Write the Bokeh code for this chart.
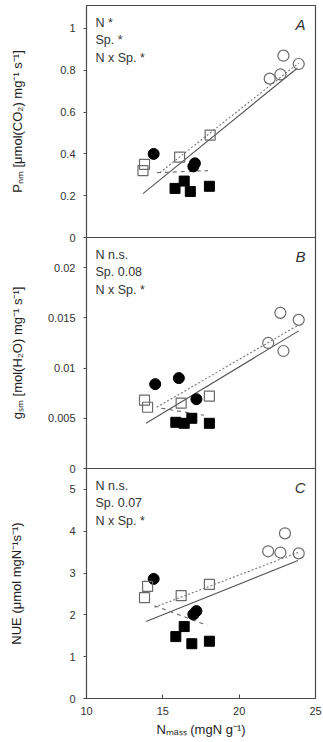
from bokeh.plotting import figure
from bokeh.layouts import column
from bokeh.models import Range1d, FixedTicker, Label
from bokeh.embed import file_html
from bokeh.resources import INLINE

# ---------------- data ----------------
x_ticks = [10, 15, 20, 25]

# Panel A : P_nm
a_ticks = [0.0, 0.2, 0.4, 0.6, 0.8, 1.0]
a_tick_labels = ["0", "0.2", "0.4", "0.6", "0.8", "1"]
a_oc_x = [22.0, 22.7, 22.9, 23.9]
a_oc_y = [0.76, 0.78, 0.87, 0.83]
a_os_x = [13.7, 13.8, 16.1, 18.1]
a_os_y = [0.32, 0.35, 0.385, 0.49]
a_fc_x = [14.4, 17.0, 17.1]
a_fc_y = [0.40, 0.34, 0.355]
a_fs_x = [15.8, 16.4, 16.8, 18.05]
a_fs_y = [0.235, 0.27, 0.22, 0.245]
a_solid_x = [13.7, 23.8]
a_solid_y = [0.21, 0.81]
a_dot_x = [14.8, 23.9]
a_dot_y = [0.31, 0.835]
a_dash_x = [14.6, 17.95]
a_dash_y = [0.31, 0.32]
a_stats = ["N *", "Sp. *", "N x Sp. *"]

# Panel B : g_sm
b_ticks = [0.0, 0.005, 0.01, 0.015, 0.02]
b_tick_labels = ["0", "0.005", "0.01", "0.015", "0.02"]
b_oc_x = [21.9, 22.7, 22.9, 23.9]
b_oc_y = [0.0125, 0.0155, 0.0117, 0.0148]
b_os_x = [13.8, 14.0, 16.2, 18.05]
b_os_y = [0.0068, 0.0061, 0.0065, 0.0072]
b_fc_x = [14.5, 16.05, 17.2]
b_fc_y = [0.0084, 0.0090, 0.0069]
b_fs_x = [15.85, 16.4, 16.9, 18.05]
b_fs_y = [0.0046, 0.0045, 0.0050, 0.0045]
b_solid_x = [13.9, 23.9]
b_solid_y = [0.0045, 0.0137]
b_dot_x = [14.6, 23.9]
b_dot_y = [0.0061, 0.0143]
b_dash_x = [14.9, 17.7]
b_dash_y = [0.0060, 0.0053]
b_stats = ["N n.s.", "Sp. 0.08", "N x Sp. *"]

# Panel C : NUE
c_ticks = [0, 1, 2, 3, 4, 5]
c_tick_labels = ["0", "1", "2", "3", "4", "5"]
c_oc_x = [21.9, 22.7, 23.0, 23.9]
c_oc_y = [3.52, 3.49, 3.95, 3.47]
c_os_x = [13.8, 14.0, 16.2, 18.05]
c_os_y = [2.41, 2.68, 2.46, 2.73]
c_fc_x = [14.4, 17.0, 17.2]
c_fc_y = [2.86, 2.01, 2.09]
c_fs_x = [15.85, 16.4, 16.9, 18.05]
c_fs_y = [1.48, 1.72, 1.31, 1.37]
c_solid_x = [13.9, 23.85]
c_solid_y = [1.84, 3.30]
c_dot_x = [14.45, 23.85]
c_dot_y = [2.18, 3.49]
c_dash_x = [14.45, 17.9]
c_dash_y = [2.22, 1.75]
c_stats = ["N n.s.", "Sp. 0.07", "N x Sp. *"]

a_max, b_max, c_max = 1.11, 0.023, 5.5

FONT = "Liberation Sans"
EDGE = "#4a4a4a"
OPEN = "#6a6a6a"

x_range = Range1d(10, 25)


def panel(letter, ticks, tlabels, ymax, oc, os_, fc, fs, solid, dot, dash, stats,
          ylabel, title_standoff, height, top, bottom, bottom_axis, overlap):
    p = figure(width=323, height=height, x_range=x_range, y_range=Range1d(0, ymax),
               output_backend="svg", toolbar_location=None,
               x_axis_location="below" if bottom_axis else None,
               min_border_left=86, min_border_right=8,
               min_border_top=top, min_border_bottom=bottom)
    if overlap:
        p.margin = (-6, 0, 0, 0)
        p.background_fill_color = None
        p.border_fill_color = None
    p.xgrid.visible = False
    p.ygrid.visible = False
    p.outline_line_color = EDGE
    p.outline_line_width = 1.2

    ya = p.yaxis[0]
    ya.ticker = FixedTicker(ticks=ticks)
    ya.major_label_overrides = {t: l for t, l in zip(ticks, tlabels)}
    ya.axis_line_color = EDGE
    ya.major_tick_in = 0
    ya.major_tick_out = 3
    ya.major_tick_line_color = EDGE
    ya.minor_tick_line_color = None
    ya.major_label_text_font = FONT
    ya.major_label_text_font_size = "11px"
    ya.major_label_text_color = "#333333"
    ya.major_label_standoff = 8
    ya.axis_label = ylabel
    ya.axis_label_text_font = FONT
    ya.axis_label_text_font_size = "13px"
    ya.axis_label_text_font_style = "normal"
    ya.axis_label_text_color = "#222222"
    ya.axis_label_standoff = title_standoff

    if bottom_axis:
        xa = p.xaxis[0]
        xa.ticker = FixedTicker(ticks=x_ticks)
        xa.major_tick_in = 4
        xa.major_tick_out = 0
        xa.minor_tick_line_color = None
        xa.axis_line_color = EDGE
        xa.major_tick_line_color = EDGE
        xa.major_label_text_font = FONT
        xa.major_label_text_font_size = "11px"
        xa.major_label_text_color = "#333333"
        xa.major_label_standoff = 8
        xa.axis_label = "N\u2098\u2090\u209b\u209b (mgN g\u207b\u00b9)"
        xa.axis_label_text_font = FONT
        xa.axis_label_text_font_size = "13px"
        xa.axis_label_text_font_style = "normal"
        xa.axis_label_text_color = "#222222"
        xa.axis_label_standoff = 4

    # regression lines
    p.line(solid[0], solid[1], line_color="#555555", line_width=1.1)
    p.line(dot[0], dot[1], line_color="#777777", line_width=1.1, line_dash="2 2")
    p.line(dash[0], dash[1], line_color="#666666", line_width=1.1, line_dash="4 4")

    # points
    p.scatter(fs[0], fs[1], marker="square", size=10, fill_color="black", line_color="black")
    p.scatter(fc[0], fc[1], marker="circle", size=11, fill_color="black", line_color="black")
    p.scatter(os_[0], os_[1], marker="square", size=10, fill_color=None,
              line_color=OPEN, line_width=1.2)
    p.scatter(oc[0], oc[1], marker="circle", size=11, fill_color=None,
              line_color=OPEN, line_width=1.2)

    for i, s in enumerate(stats):
        p.add_layout(Label(x=10, y=ymax, x_offset=9, y_offset=-17 - 17.5 * i, text=s,
                           text_font=FONT, text_font_size="12.5px",
                           text_baseline="middle", text_color="#333333"))
    p.add_layout(Label(x=25, y=ymax, x_offset=-10, y_offset=-19, text=letter,
                       text_font=FONT, text_font_size="15px", text_font_style="italic",
                       text_align="right", text_baseline="middle", text_color="#333333"))
    return p


pa = panel("A", a_ticks, a_tick_labels, a_max,
           (a_oc_x, a_oc_y), (a_os_x, a_os_y), (a_fc_x, a_fc_y), (a_fs_x, a_fs_y),
           (a_solid_x, a_solid_y), (a_dot_x, a_dot_y), (a_dash_x, a_dash_y), a_stats,
           "P\u2099\u2098 [\u03bcmol(CO\u2082) mg\u207b\u00b9 s\u207b\u00b9]", 32,
           243, 5, 6, False, False)
pb = panel("B", b_ticks, b_tick_labels, b_max,
           (b_oc_x, b_oc_y), (b_os_x, b_os_y), (b_fc_x, b_fc_y), (b_fs_x, b_fs_y),
           (b_solid_x, b_solid_y), (b_dot_x, b_dot_y), (b_dash_x, b_dash_y), b_stats,
           "g\u209b\u2098 [mol(H\u2082O) mg\u207b\u00b9 s\u207b\u00b9]", 20,
           237, 0, 6, False, True)
pc = panel("C", c_ticks, c_tick_labels, c_max,
           (c_oc_x, c_oc_y), (c_os_x, c_os_y), (c_fc_x, c_fc_y), (c_fs_x, c_fs_y),
           (c_solid_x, c_solid_y), (c_dot_x, c_dot_y), (c_dash_x, c_dash_y), c_stats,
           "NUE (\u03bcmol mgN\u207b\u00b9s\u207b\u00b9)", 42,
           274, 0, 44, True, True)

layout = column(pa, pb, pc, spacing=0)
open("out.html", "w").write(file_html(layout, INLINE))
